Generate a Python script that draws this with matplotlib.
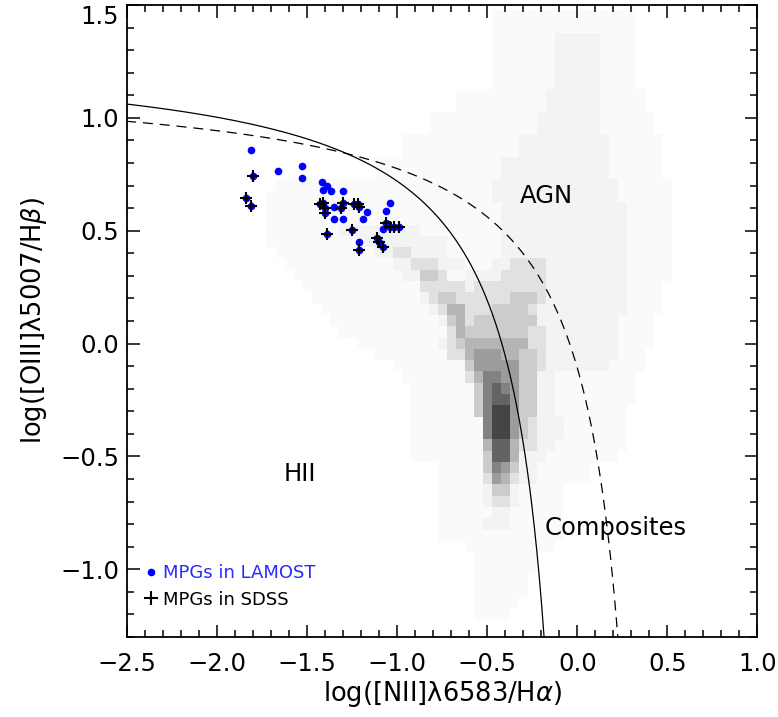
import numpy as np
import matplotlib
matplotlib.use('Agg')
import matplotlib.pyplot as plt
from matplotlib.lines import Line2D

# demarcation lines: y = a / (x - b) + c
kauffmann03 = [0.61, 0.05, 1.30]
kewley01 = [0.61, 0.47, 1.19]

# MPGs (LAMOST only, and SDSS; SDSS ones are also LAMOST objects)
lamost_x = [-1.81, -1.66, -1.53, -1.53, -1.42, -1.39, -1.41, -1.37, -1.30,
            -1.35, -1.35, -1.30, -1.17, -1.19, -1.04, -1.06, -1.08, -1.21]
lamost_y = [0.859, 0.763, 0.788, 0.733, 0.714, 0.700, 0.681, 0.677, 0.674,
            0.607, 0.552, 0.552, 0.585, 0.551, 0.625, 0.589, 0.509, 0.452]
sdss_x = [-1.80, -1.84, -1.81, -1.43, -1.41, -1.40, -1.40, -1.30, -1.31,
          -1.24, -1.22, -1.21, -1.39, -1.25, -1.21, -1.11, -1.10, -1.08,
          -1.06, -1.04, -1.02, -0.99]
sdss_y = [0.744, 0.644, 0.610, 0.620, 0.625, 0.600, 0.580, 0.622, 0.600,
          0.617, 0.620, 0.607, 0.486, 0.504, 0.415, 0.467, 0.452, 0.427,
          0.533, 0.515, 0.518, 0.515]

# SDSS density map, 0.05 dex bins, rows from top, (x_from, x_to, level 0-9)
dens_step = 0.05
dens_x0 = -1.75
dens_ncol = 48
dens_rows = [
    (1.45, [(-0.45, 0.30, 1)]),
    (1.40, [(-0.45, 0.30, 1)]),
    (1.35, [(-0.45, 0.30, 1), (-0.10, 0.10, 2)]),
    (1.30, [(-0.45, 0.30, 1), (-0.10, 0.10, 2)]),
    (1.25, [(-0.45, 0.30, 1), (-0.10, 0.10, 2)]),
    (1.20, [(-0.45, 0.30, 1), (-0.10, 0.10, 2)]),
    (1.15, [(-0.45, 0.30, 1), (-0.10, 0.10, 2)]),
    (1.10, [(-0.65, 0.35, 1), (-0.15, 0.10, 2)]),
    (1.05, [(-0.65, 0.35, 1), (-0.15, 0.10, 2)]),
    (1.00, [(-0.80, 0.40, 1), (-0.20, 0.10, 2)]),
    (0.95, [(-0.80, 0.40, 1), (-0.20, 0.10, 2)]),
    (0.90, [(-0.95, 0.45, 1), (-0.30, 0.15, 2)]),
    (0.85, [(-0.95, 0.45, 1), (-0.30, 0.15, 2)]),
    (0.80, [(-1.10, 0.45, 1), (-0.40, 0.15, 2)]),
    (0.75, [(-1.10, 0.45, 1), (-0.40, 0.15, 2)]),
    (0.70, [(-1.65, 0.50, 1), (-0.45, 0.20, 2)]),
    (0.65, [(-1.70, 0.50, 1), (-0.45, 0.20, 2)]),
    (0.60, [(-1.70, 0.50, 1), (-0.40, 0.25, 2)]),
    (0.55, [(-1.70, 0.50, 1), (-0.40, 0.25, 2)]),
    (0.50, [(-1.70, 0.50, 1), (-1.30, -0.90, 2), (-0.40, 0.25, 2)]),
    (0.45, [(-1.70, 0.50, 1), (-1.20, -0.75, 2), (-0.40, 0.25, 2)]),
    (0.40, [(-1.65, 0.50, 1), (-1.10, -0.75, 2), (-1.00, -0.95, 3),
            (-0.40, 0.25, 2)]),
    (0.35, [(-1.60, 0.50, 1), (-1.00, -0.65, 2), (-0.90, -0.80, 3),
            (-0.45, 0.25, 2), (-0.35, -0.20, 3)]),
    (0.30, [(-1.55, 0.50, 1), (-0.95, -0.75, 2), (-0.85, -0.80, 4),
            (-0.75, -0.75, 3), (-0.60, 0.25, 2), (-0.40, -0.20, 3)]),
    (0.25, [(-1.50, 0.45, 1), (-0.85, -0.65, 3), (-0.60, 0.25, 2),
            (-0.55, -0.20, 3)]),
    (0.20, [(-1.45, 0.45, 1), (-0.85, -0.80, 2), (-0.80, -0.55, 3),
            (-0.75, -0.70, 4), (-0.55, -0.20, 3), (-0.35, -0.25, 4),
            (-0.15, 0.25, 2)]),
    (0.15, [(-1.40, 0.45, 1), (-0.80, -0.80, 2), (-0.75, -0.75, 3),
            (-0.70, -0.65, 5), (-0.60, -0.60, 3), (-0.55, -0.25, 3),
            (-0.45, -0.30, 4), (-0.20, 0.25, 2)]),
    (0.10, [(-1.35, 0.40, 1), (-0.75, -0.75, 2), (-0.70, -0.70, 4),
            (-0.65, -0.65, 5), (-0.60, -0.60, 3), (-0.55, -0.25, 4),
            (-0.20, 0.20, 2)]),
    (0.05, [(-1.30, 0.40, 1), (-0.70, -0.70, 3), (-0.65, -0.65, 5),
            (-0.60, -0.60, 4), (-0.55, -0.30, 4), (-0.25, -0.20, 3),
            (-0.15, 0.20, 2)]),
    (0.00, [(-1.20, 0.40, 1), (-0.75, -0.70, 2), (-0.70, -0.70, 3),
            (-0.65, -0.65, 4), (-0.60, -0.30, 5), (-0.25, -0.20, 3),
            (-0.15, 0.20, 2)]),
    (-0.05, [(-1.10, 0.35, 1), (-0.70, -0.65, 3), (-0.60, -0.60, 5),
             (-0.55, -0.45, 6), (-0.40, -0.35, 5), (-0.30, -0.25, 4),
             (-0.20, -0.20, 3), (-0.15, 0.20, 2)]),
    (-0.10, [(-1.00, 0.35, 1), (-0.60, -0.60, 4), (-0.55, -0.35, 6),
             (-0.30, -0.25, 4), (-0.20, -0.20, 3), (-0.15, 0.15, 2)]),
    (-0.15, [(-0.95, 0.30, 1), (-0.60, -0.60, 3), (-0.55, -0.55, 5),
             (-0.50, -0.45, 7), (-0.40, -0.35, 6), (-0.30, -0.25, 4),
             (-0.20, -0.15, 2)]),
    (-0.20, [(-0.90, 0.30, 1), (-0.55, -0.55, 4), (-0.50, -0.50, 7),
             (-0.45, -0.45, 8), (-0.40, -0.40, 7), (-0.35, -0.35, 6),
             (-0.30, -0.25, 4), (-0.20, -0.15, 2)]),
    (-0.25, [(-0.90, 0.30, 1), (-0.55, -0.55, 4), (-0.50, -0.50, 7),
             (-0.45, -0.40, 8), (-0.35, -0.35, 6), (-0.30, -0.25, 4),
             (-0.20, -0.15, 2)]),
    (-0.30, [(-0.90, 0.25, 1), (-0.55, -0.55, 4), (-0.50, -0.50, 7),
             (-0.45, -0.40, 9), (-0.35, -0.35, 6), (-0.30, -0.25, 4),
             (-0.20, -0.15, 2)]),
    (-0.35, [(-0.90, 0.25, 1), (-0.50, -0.50, 7), (-0.45, -0.40, 9),
             (-0.35, -0.35, 6), (-0.30, -0.30, 4), (-0.25, -0.25, 3),
             (-0.20, -0.10, 2)]),
    (-0.40, [(-0.90, 0.25, 1), (-0.50, -0.50, 7), (-0.45, -0.40, 9),
             (-0.35, -0.35, 6), (-0.30, -0.30, 4), (-0.25, -0.25, 3),
             (-0.20, -0.10, 2)]),
    (-0.45, [(-0.90, 0.25, 1), (-0.50, -0.50, 5), (-0.45, -0.40, 8),
             (-0.35, -0.35, 5), (-0.30, -0.25, 3), (-0.20, -0.15, 2)]),
    (-0.50, [(-0.90, 0.20, 1), (-0.50, -0.50, 4), (-0.45, -0.40, 8),
             (-0.35, -0.35, 5), (-0.30, -0.20, 2)]),
    (-0.55, [(-0.75, 0.05, 1), (-0.50, -0.50, 4), (-0.45, -0.45, 7),
             (-0.40, -0.40, 6), (-0.35, -0.35, 4), (-0.30, -0.25, 2)]),
    (-0.60, [(-0.75, 0.05, 1), (-0.50, -0.50, 3), (-0.45, -0.45, 6),
             (-0.40, -0.40, 5), (-0.35, -0.35, 3), (-0.30, -0.25, 2)]),
    (-0.65, [(-0.75, -0.10, 1), (-0.50, -0.50, 2), (-0.45, -0.40, 4),
             (-0.35, -0.35, 2)]),
    (-0.70, [(-0.75, -0.10, 1), (-0.50, -0.50, 2), (-0.45, -0.40, 3),
             (-0.35, -0.35, 2)]),
    (-0.75, [(-0.75, -0.10, 1), (-0.45, -0.40, 2)]),
    (-0.80, [(-0.75, -0.10, 1), (-0.50, -0.40, 2)]),
    (-0.85, [(-0.75, -0.10, 1)]),
    (-0.90, [(-0.60, -0.15, 1)]),
    (-0.95, [(-0.55, -0.25, 1)]),
    (-1.00, [(-0.55, -0.25, 1)]),
    (-1.05, [(-0.55, -0.30, 1)]),
    (-1.10, [(-0.55, -0.30, 1)]),
    (-1.15, [(-0.55, -0.35, 1)]),
    (-1.20, [(-0.55, -0.40, 1)]),
]
grey_levels = [1.0, 0.98, 0.952, 0.88, 0.80, 0.71, 0.61, 0.51, 0.39, 0.27]

region_labels = ['AGN', 'HII', 'Composites']
region_x = [-0.174, -1.54, 0.215]
region_y = [0.655, -0.576, -0.816]

plt.rcParams['font.family'] = 'DejaVu Sans'
plt.rcParams['mathtext.fontset'] = 'dejavusans'

fig = plt.figure(figsize=(7.78, 7.17), dpi=100)
ax = fig.add_axes([127.3 / 778, 80 / 717, 630 / 778, 632 / 717])

# density image
xc = dens_x0 + dens_step * np.arange(dens_ncol)
img = np.ones((len(dens_rows), dens_ncol))
for r, (yc, segs) in enumerate(dens_rows):
    for x0, x1, lev in segs:
        m = (xc > x0 - 0.01) & (xc < x1 + 0.01)
        img[r, m] = grey_levels[lev]
ytop = dens_rows[0][0]
ybot = dens_rows[-1][0]
ax.imshow(img, cmap='gray', vmin=0, vmax=1, origin='upper', aspect='auto',
          interpolation='nearest', zorder=0,
          extent=(xc[0] - dens_step / 2, xc[-1] + dens_step / 2,
                  ybot - dens_step / 2, ytop + dens_step / 2))

# demarcation curves
a, b, c = kauffmann03
xk = np.linspace(-2.6, b - 0.01, 800)
ax.plot(xk, a / (xk - b) + c, color='black', lw=0.9, zorder=2)
a, b, c = kewley01
xw = np.linspace(-2.6, b - 0.01, 800)
ax.plot(xw, a / (xw - b) + c, color='black', lw=0.9,
        linestyle=(0, (8, 5.5)), zorder=2)

# points
ax.plot(lamost_x + sdss_x, lamost_y + sdss_y, 'o', color='blue', ms=5.5,
        mec='none', zorder=3)
ax.plot(sdss_x, sdss_y, '+', color='black', ms=9, mew=1.5, zorder=4)

for t, x, y in zip(region_labels, region_x, region_y):
    ax.text(x, y, t, fontsize=17.5, ha='center', va='center', zorder=5)

handles = [Line2D([], [], marker='o', color='blue', ls='none', ms=5.5, mec='none'),
           Line2D([], [], marker='+', color='black', ls='none', ms=10, mew=1.5)]
ax.legend(handles, ['MPGs in LAMOST', 'MPGs in SDSS'], loc='lower left',
          bbox_to_anchor=(0.026, 0.045), borderaxespad=0, borderpad=0,
          frameon=False, fontsize=13, handlelength=0.8, handletextpad=0.27,
          labelspacing=0.45, labelcolor=['#2a2aff', 'black'])

ax.set_xlim(-2.5, 1.0)
ax.set_ylim(-1.3, 1.5)
ax.set_xticks(np.arange(-2.5, 1.01, 0.5))
ax.set_yticks(np.arange(-1.0, 1.51, 0.5))
ax.set_xticks(np.arange(-2.5, 1.01, 0.1), minor=True)
ax.set_yticks(np.arange(-1.3, 1.51, 0.1), minor=True)
ax.tick_params(which='both', direction='in', top=True, right=True,
               labelsize=17.5, width=1.1)
ax.tick_params(which='major', length=9)
ax.tick_params(which='minor', length=5)
ax.tick_params(axis='x', pad=11)
ax.tick_params(axis='y', pad=6)
for s in ax.spines.values():
    s.set_linewidth(1.3)
ylabs = ax.get_yticklabels()
ylabs[-1].set_va('top')

ax.set_xlabel(r'log([NII]λ6583/H$\alpha$)', fontsize=18.5, labelpad=2)
ax.set_ylabel(r'log([OIII]λ5007/H$\beta$)', fontsize=18.5, labelpad=8)

fig.savefig('out.png', dpi=100)
